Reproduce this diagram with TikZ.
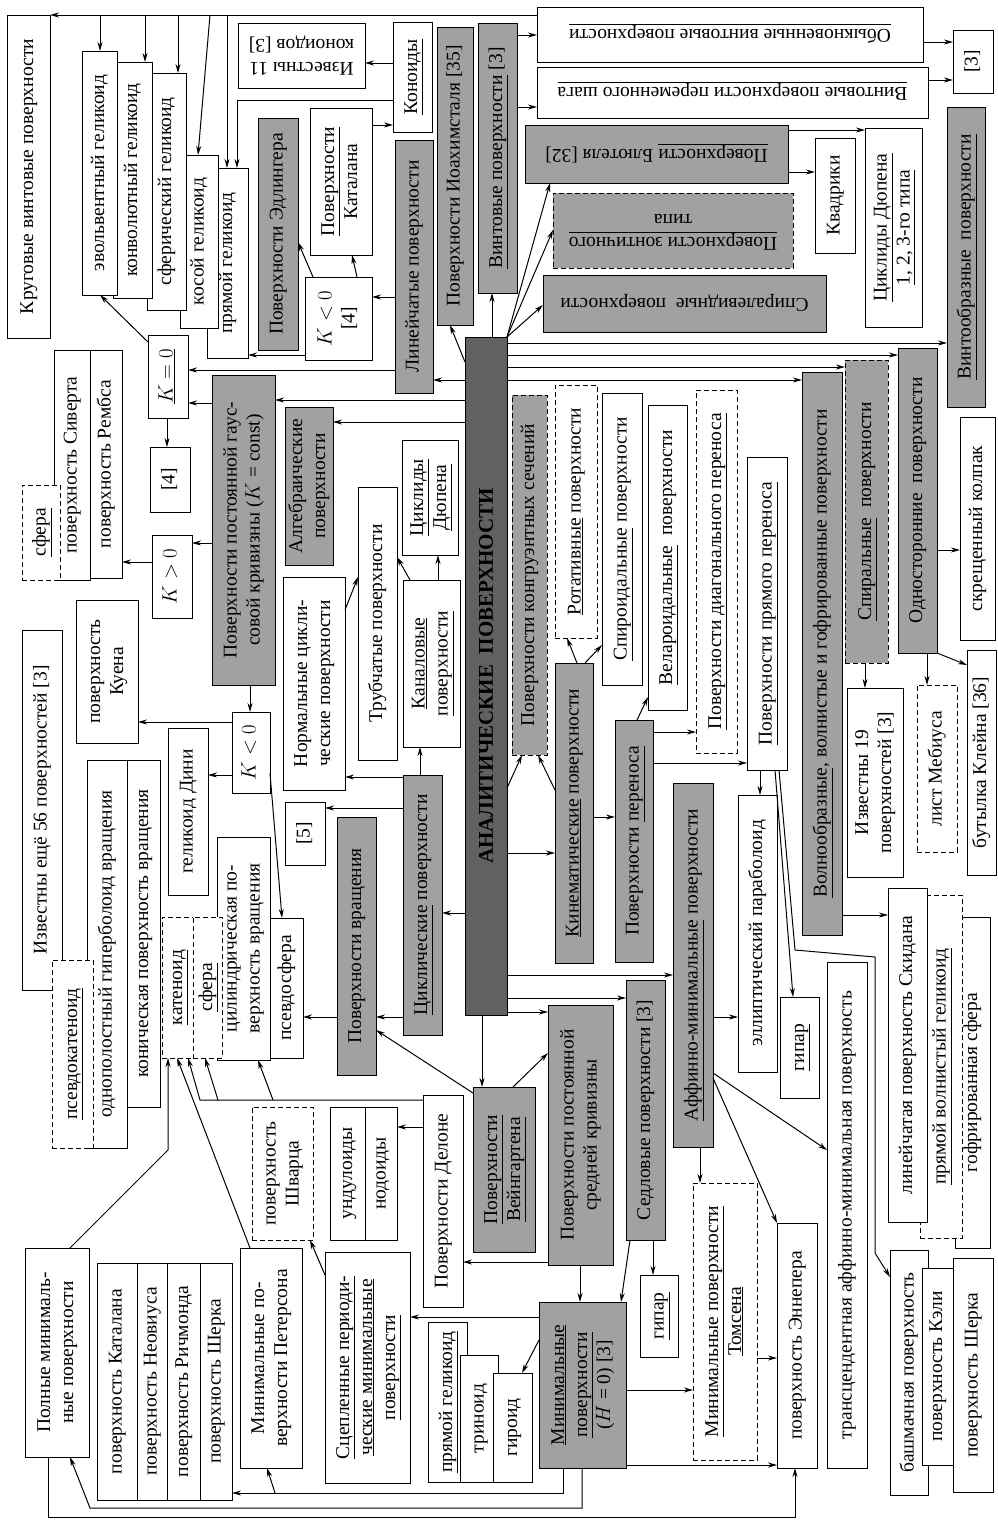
\documentclass[tikz,border=0pt]{standalone}
\usepackage{graphicx}
\usepackage{fontspec}
\setmainfont{Liberation Serif}
\usetikzlibrary{arrows.meta}
\newcommand\fsz{\fontsize{19.5}{23}\selectfont}
\tikzset{
 bx/.style={draw, line width=1pt, fill=white, inner sep=0pt, outer sep=0pt, font=\fsz},
 gr/.style={fill=black!37},
 dk/.style={fill=black!62},
 ds/.style={dash pattern=on 5pt off 3pt},
 nofill/.style={fill=none},
 arr/.style={line width=1pt, -{Stealth[length=9pt,width=5pt]}},
}
\newcommand\rtxt[1]{\rotatebox{90}{\begin{tabular}{@{}c@{}}#1\end{tabular}}}
\newcommand\rrtxt[1]{\rotatebox{180}{\begin{tabular}{@{}c@{}}#1\end{tabular}}}
\newcommand\bxn[7][]{\node[bx,#1,minimum width={(#5-#3)*1pt},minimum height={(#6-#4)*1pt}] (#2) at ({(#3+#5)/2},{(#4+#6)/2}) {\rtxt{#7}};}
\newcommand\bxh[7][]{\node[bx,#1,minimum width={(#5-#3)*1pt},minimum height={(#6-#4)*1pt}] (#2) at ({(#3+#5)/2},{(#4+#6)/2}) {\rrtxt{#7}};}
\begin{document}
\begin{tikzpicture}[x=1pt,y=-1pt]
\useasboundingbox (0,0) rectangle (997,1521);
\fill[white] (0,0) rectangle (997,1521);
% ---------- top left: helicoids
\bxn{pr1}{207}{168}{248}{358}{прямой геликоид}
\bxn{kos}{180}{155}{218}{328}{косой геликоид}
\bxn{sfg}{147}{73}{186}{310}{сферический геликоид}
\bxn{konv}{113}{62}{152}{298}{конволютный геликоид}
\bxn{evo}{82}{51}{117}{295}{эвольвентный геликоид}
\bxn{kr}{7}{15}{50}{338}{Круговые винтовые поверхности}
\bxh{izv11}{238}{23}{365}{88}{Известны 11\\коноидов [3]}
\bxn[gr]{edl}{258}{118}{298}{350}{Поверхности Эдлингера}
\bxn{kat}{310}{108}{372}{255}{\underline{Поверхности}\\Каталана}
\bxn{km4}{305}{277}{372}{360}{$K<0$\\{[4]}}
\bxn{kon}{393}{22}{432}{132}{\underline{Коноиды}}
\bxn[gr]{lin}{395}{140}{433}{393}{Линейчатые поверхности}
\bxn[gr]{ioa}{437}{27}{473}{325}{Поверхности Иоахимсталя [35]}
\bxn[gr]{vint}{478}{23}{517}{293}{\underline{Винтовые поверхности} [3]}
% ---------- top right
\bxh{obyk}{537}{7}{923}{62}{\underline{Обыкновенные винтовые поверхности}}
\bxh{perem}{537}{67}{928}{118}{\underline{Винтовые поверхности переменного шага}}
\bxn{ref3}{953}{30}{993}{93}{{[3]}}
\bxh[gr]{blu}{525}{125}{788}{183}{\underline{Поверхности} Блютеля [32]}
\bxh[gr,ds]{zont}{553}{193}{793}{268}{\underline{Поверхности зонтичного}\\типа}
\bxh[gr]{spirv}{543}{275}{826}{332}{Спиралевидные~~поверхности}
\bxn{kvad}{815}{138}{855}{253}{Квадрики}
\bxn{cikl3}{865}{128}{922}{327}{\underline{Циклиды Дюпена}\\\underline{1, 2, 3-го типа}}
\bxn[gr]{vintoobr}{947}{107}{985}{407}{\underline{Винтообразные~~поверхности}}
% ---------- main
\node[bx,dk,minimum width=42pt,minimum height=678pt] (main) at (486,676)
  {\rotatebox{90}{\fontsize{21}{24}\selectfont\bfseries АНАЛИТИЧЕСКИЕ~~ПОВЕРХНОСТИ}};
% ---------- left middle
\bxn{kzero}{148}{335}{188}{418}{\underline{$K=0$}}
\bxn{r4}{150}{447}{190}{512}{{[4]}}
\bxn{kpos}{152}{535}{192}{618}{$K>0$}
\bxn{siv}{54}{350}{90}{580}{поверхность Сиверта}
\bxn{remb}{90}{350}{122}{578}{поверхность Рембса}
\bxn[ds]{sfera1}{22}{485}{60}{580}{\underline{сфера}}
\bxn[gr]{kconst}{212}{375}{275}{685}{Поверхности постоянной гаус-\\совой кривизны ($K$ = const)}
\bxn[gr]{alg}{285}{407}{333}{565}{Алгебраические\\поверхности}
\bxn{norm}{283}{577}{345}{790}{Нормальные цикли-\\ческие поверхности}
\bxn{kuen}{76}{600}{138}{743}{поверхность\\Куена}
\bxn{kneg}{232}{712}{270}{793}{$K<0$}
\bxn{dini}{168}{728}{208}{895}{геликоид Дини}
\bxn{izv56}{22}{630}{62}{990}{Известны ещё 56 поверхностей [3]}
\bxn{odnop}{87}{760}{127}{1148}{однополостный гиперболоид вращения}
\bxn{konich}{127}{760}{160}{1107}{коническая поверхность вращения}
\bxn[ds]{pskat}{52}{960}{93}{1148}{\underline{псевдокатеноид}}
\bxn{cyl}{217}{837}{270}{1060}{цилиндрическая по-\\верхность вращения}
\bxn[ds]{katen}{162}{917}{193}{1058}{\underline{катеноид}}
\bxn[ds]{sfera2}{193}{917}{222}{1058}{\underline{сфера}}
\bxn{psevdo}{270}{918}{303}{1058}{псевдосфера}
\bxn{r5}{285}{802}{325}{865}{{[5]}}
\bxn{trub}{358}{487}{397}{760}{Трубчатые поверхности}
\bxn{kan}{403}{580}{460}{747}{\underline{Каналовые}\\\underline{поверхности}}
\bxn{cikl}{402}{440}{458}{555}{\underline{Циклиды}\\\underline{Дюпена}}
\bxn[gr]{cyc}{403}{775}{442}{1035}{\underline{Циклические} поверхности}
\bxn[gr]{vrash}{337}{817}{376}{1075}{Поверхности вращения}
% ---------- right middle
\bxn[gr,ds]{kongr}{512}{395}{547}{755}{Поверхности конгруэнтных сечений}
\bxn[ds]{rot}{555}{385}{597}{638}{\underline{Ротативные} поверхности}
\bxn{spir}{602}{393}{642}{685}{\underline{Спироидальные} поверхности}
\bxn{vel}{648}{405}{687}{710}{\underline{Велароидальные}~~поверхности}
\bxn[ds]{diag}{696}{390}{737}{753}{\underline{Поверхности диагонального переноса}}
\bxn{pryam}{747}{457}{787}{770}{\underline{Поверхности прямого переноса}}
\bxn[gr]{volno}{802}{372}{842}{935}{\underline{Волнообразные}, волнистые и гофрированные поверхности}
\bxn[gr,ds]{spiral}{845}{360}{888}{663}{\underline{Спиральные}~~поверхности}
\bxn[gr]{odnos}{898}{348}{937}{653}{Односторонние~~поверхности}
\bxn{skr}{960}{417}{995}{640}{скрещенный колпак}
\bxn{izv19}{847}{688}{903}{877}{Известны 19\\поверхностей [3]}
\bxn[ds]{mob}{917}{685}{957}{852}{лист Мебиуса}
\bxn{klein}{967}{650}{996}{875}{бутылка Клейна [36]}
\bxn[gr]{kinem}{555}{663}{593}{963}{\underline{Кинематические} поверхности}
\bxn[gr]{perenos}{615}{720}{653}{962}{Поверхности \underline{переноса}}
\bxn[gr]{affin}{673}{783}{713}{1147}{\underline{Аффинно-минимальные} поверхности}
\bxn{ellip}{738}{795}{777}{1072}{эллиптический параболоид}
\bxn{gipar2}{780}{997}{819}{1098}{\underline{гипар}}
\bxn{trans}{827}{962}{867}{1468}{трансцендентная аффинно-минимальная поверхность}
\bxn{gofr}{955}{917}{990}{1248}{гофрированная сфера}
\bxn[ds]{pvg}{920}{895}{962}{1238}{\underline{прямой волнистый геликоид}}
\bxn{skid}{888}{888}{927}{1222}{линейчатая поверхность Скидана}
\bxn{bash}{890}{1250}{928}{1495}{башмачная поверхность}
\bxn{keli}{922}{1268}{953}{1465}{поверхность Кэли}
\bxn{sherk2}{953}{1258}{993}{1492}{поверхность Шерка}
% ---------- bottom
\bxn[gr]{sedl}{626}{980}{665}{1240}{Седловые поверхности [3]}
\bxn[gr]{sredn}{548}{1005}{613}{1265}{Поверхности постоянной\\средней кривизны}
\bxn[gr]{vein}{473}{1087}{535}{1252}{\underline{Поверхности}\\\underline{Вейнгартена}}
\bxn{delone}{423}{1095}{463}{1307}{Поверхности Делоне}
\bxn{und}{330}{1107}{365}{1240}{ундулоиды}
\bxn{nod}{365}{1107}{397}{1240}{нодоиды}
\bxn[ds]{shvarc}{252}{1107}{313}{1240}{поверхность\\Шварца}
\bxn[gr]{minh}{539}{1302}{626}{1468}{\underline{Минимальные}\\\underline{поверхности}\\($H$ = 0) [3]}
\bxn{gipar1}{640}{1275}{678}{1357}{\underline{гипар}}
\bxn{scep}{325}{1252}{410}{1483}{\underline{Сцепленные периоди-}\\\underline{ческие минимальные}\\\underline{поверхности}}
\bxn{pr2}{428}{1322}{467}{1482}{\underline{прямой геликоид}}
\bxn{trin}{460}{1355}{498}{1482}{триноид}
\bxn{gir}{493}{1373}{532}{1482}{гироид}
\bxn[ds]{tomsen}{693}{1183}{757}{1460}{\underline{Минимальные поверхности}\\\underline{Томсена}}
\bxn{enn}{777}{1223}{817}{1468}{поверхность Эннепера}
\bxn{poln}{25}{1248}{89}{1457}{Полные минималь-\\ные поверхности}
\bxn{pkat}{97}{1263}{137}{1500}{поверхность Каталана}
\bxn{pneo}{137}{1263}{167}{1500}{поверхность Неовиуса}
\bxn{prich}{167}{1263}{200}{1500}{поверхность Ричмонда}
\bxn{psherk}{200}{1263}{232}{1500}{поверхность Шерка}
\bxn{peter}{240}{1248}{302}{1468}{Минимальные по-\\верхности Петерсона}
% ---------- junction coordinates
\coordinate (j1) at (200,1100);
\coordinate (j2) at (218,1100);
\coordinate (j3) at (273,1100);
\coordinate (j4) at (275,1493);
\coordinate (j5) at (168,1150);
\coordinate (j6) at (237,100);
% ---------- connectors: top
\draw[arr] (obyk.west |- 0,15) -- (kr.north east);
\draw[arr] (kr.north -| 100,0) -- (evo.north -| 100,0);
\draw[arr] (kr.north -| 145,0) -- (konv.north -| 145,0);
\draw[arr] (kr.north -| 178,0) -- (sfg.north -| 178,0);
\draw[arr] (kr.north -| 210,0) -- (kos.north -| 198,0);
\draw[arr] (kr.north -| 227,0) -- (pr1.north -| 227,0);
\draw[arr] (kon.west |- 0,100) -- (j6) -- (pr1.north -| 237,0);
\draw[arr] (kon.west |- 0,63) -- (izv11.east |- 0,63);
\draw[arr] (kat.east |- 0,125) -- (kon.west |- 0,125);
\draw[arr] (km4.north -| 313,0) -- (edl.east |- 0,242);
\draw[arr] (km4.north -| 357,0) -- (kat.south -| 352,0);
\draw[arr] (lin.west |- 0,297) -- (km4.east |- 0,297);
\draw[arr] (lin.west |- 0,370) -- (kzero.east |- 0,370);
\draw[arr] (km4.west |- 0,355) -- (pr1.east |- 0,355);
\draw[arr] (main.north -| 492,0) -- (vint.south -| 492,0);
\draw[arr] (main.west |- 0,362) -- (ioa.south -| 450,0);
\draw[arr] (main.west |- 0,380) -- (lin.east |- 0,380);
\draw[arr] (vint.east |- 0,35) -- (obyk.west |- 0,35);
\draw[arr] (vint.east |- 0,107) -- (perem.west |- 0,107);
\draw[arr] (main.north east) -- (spirv.west |- 0,305);
\draw[arr] (main.north east) -- (zont.west |- 0,230);
\draw[arr] (main.north east) -- (blu.south -| 550,0);
\draw[arr] (blu.east |- 0,172) -- (kvad.west |- 0,172);
\draw[arr] (blu.east |- 0,130) -- (cikl3.west |- 0,130);
\draw[arr] (obyk.east |- 0,42) -- (ref3.west |- 0,42);
\draw[arr] (perem.east |- 0,80) -- (ref3.west |- 0,80);
\draw[arr] (main.east |- 0,343) -- (vintoobr.west |- 0,343);
\draw[arr] (main.east |- 0,355) -- (odnos.west |- 0,355);
\draw[arr] (main.east |- 0,367) -- (spiral.west |- 0,367);
\draw[arr] (main.east |- 0,380) -- (volno.west |- 0,380);
% right middle
\draw[arr] (odnos.east |- 0,550) -- (skr.west |- 0,550);
\draw[arr] (odnos.south -| 927,0) -- (mob.north -| 927,0);
\draw[arr] (odnos.south east) -- (klein.west |- 0,665);
\draw[arr] (spiral.south -| 865,0) -- (izv19.north -| 865,0);
\draw[arr] (main.east |- 0,788) -- (kongr.south -| 522,0);
\draw[arr] (kinem.west |- 0,790) -- (kongr.south -| 538,0);
\draw[arr] (main.east |- 0,853) -- (kinem.west |- 0,853);
\draw[arr] (kinem.north -| 577,0) -- (rot.south -| 567,0);
\draw[arr] (kinem.north -| 585,0) -- (spir.west |- 0,645);
\draw[arr] (kinem.east |- 0,817) -- (perenos.west |- 0,817);
\draw[arr] (perenos.north -| 637,0) -- (vel.west |- 0,697);
\draw[arr] (perenos.east |- 0,732) -- (diag.west |- 0,732);
\draw[arr] (perenos.east |- 0,763) -- (pryam.west |- 0,763);
\draw[arr] (pryam.south -| 760,0) -- (ellip.north -| 760,0);
\draw[arr] (pryam.south -| 775,0) -- (gipar2.north -| 793,0);
\draw[arr] (pryam.south -| 779,0) -- (795,950) -- (875,957) -- (875,1253) -- (bash.west |- 0,1277);
\draw[arr] (volno.east |- 0,915) -- (skid.west |- 0,915);
\draw[arr] (main.east |- 0,975) -- (affin.west |- 0,975);
\draw[arr] (affin.east |- 0,1017) -- (ellip.west |- 0,1017);
\draw[arr] (affin.south -| 700,0) -- (tomsen.north -| 700,0);
\draw[arr] (affin.east |- 0,1078) -- (enn.north west);
\draw[arr] (affin.east |- 0,1073) -- (trans.west |- 0,1150);
\draw[arr] (main.east |- 0,998) -- (sedl.west |- 0,998);
\draw[arr] (main.east |- 0,1012) -- (sredn.west |- 0,1012);
% left middle
\draw[arr] (main.south -| 482,0) -- (vein.north -| 482,0);
\draw[arr] (vein.north -| 513,0) -- (sredn.west |- 0,1053);
\draw[arr] (vein.west |- 0,1093) -- (vrash.east |- 0,1030);
\draw[arr] (cyc.west |- 0,1017) -- (vrash.east |- 0,1017);
\draw[arr] (vrash.west |- 0,1017) -- (psevdo.east |- 0,1017);
\draw[arr] (main.west |- 0,913) -- (cyc.east |- 0,913);
\draw[arr] (cyc.west |- 0,777) -- (norm.east |- 0,777);
\draw[arr] (cyc.west |- 0,808) -- (r5.east |- 0,808);
\draw[arr] (cyc.north -| 420,0) -- (kan.south -| 420,0);
\draw[arr] (kan.north -| 438,0) -- (cikl.south -| 438,0);
\draw[arr] (kan.north -| 410,0) -- (trub.east |- 0,557);
\draw[arr] (norm.east |- 0,610) -- (trub.west |- 0,577);
\draw[arr] (main.west |- 0,400) -- (kconst.east |- 0,400);
\draw[arr] (main.west |- 0,422) -- (alg.east |- 0,422);
\draw[arr] (kconst.west |- 0,403) -- (kzero.east |- 0,403);
\draw[arr] (kzero.west |- 0,342) -- (evo.south -| 100,0);
\draw[arr] (kzero.south -| 167,0) -- (r4.north -| 167,0);
\draw[arr] (kconst.west |- 0,543) -- (kpos.east |- 0,543);
\draw[arr] (kpos.west |- 0,562) -- (remb.east |- 0,562);
\draw[arr] (kconst.south -| 250,0) -- (kneg.north -| 250,0);
\draw[arr] (kneg.west |- 0,722) -- (kuen.east |- 0,722);
\draw[arr] (kneg.west |- 0,775) -- (dini.east |- 0,775);
\draw[arr] (kneg.east |- 0,773) -- (psevdo.north -| 282,0);
% bottom
\draw[arr] (delone.west |- 0,1100) -- (j1) -- (katen.south -| 188,0);
\draw[arr] (j2) -- (sfera2.south -| 205,0);
\draw[arr] (j3) -- (cyl.south -| 258,0);
\draw[arr] (delone.west |- 0,1127) -- (nod.east |- 0,1127);
\draw[arr] (sredn.west |- 0,1262) -- (delone.east |- 0,1262);
\draw[arr] (sredn.south -| 580,0) -- (minh.north -| 580,0);
\draw[arr] (sedl.south -| 630,0) -- (minh.north -| 621,0);
\draw[arr] (sedl.south -| 653,0) -- (gipar1.north -| 653,0);
\draw[arr] (minh.west |- 0,1317) -- (scep.east |- 0,1317);
\draw[arr] (minh.west |- 0,1340) -- (gir.north -| 522,0);
\draw[arr] (minh.east |- 0,1390) -- (tomsen.west |- 0,1390);
\draw[arr] (minh.east |- 0,1465) -- (enn.west |- 0,1465);
\draw[arr] (tomsen.east |- 0,1358) -- (enn.west |- 0,1358);
\draw[arr] (minh.south -| 563,0) |- (psherk.east |- 0,1493);
\draw[arr] (j4) -- (peter.south -| 267,0);
\draw[arr] (minh.south -| 582,0) -- (582,1508) -- (90,1508) -- (poln.south -| 70,0);
\draw[arr] (poln.south -| 48,0) -- (48,1517) -- (795,1517) -- (enn.south -| 795,0);
\draw[arr] (poln.north -| 70,0) -- (j5) -- (katen.south -| 168,0);
\draw[arr] (peter.north -| 250,0) -- (katen.south -| 177,0);
\draw[arr] (scep.west |- 0,1275) -- (shvarc.south -| 310,0);
\end{tikzpicture}
\end{document}
